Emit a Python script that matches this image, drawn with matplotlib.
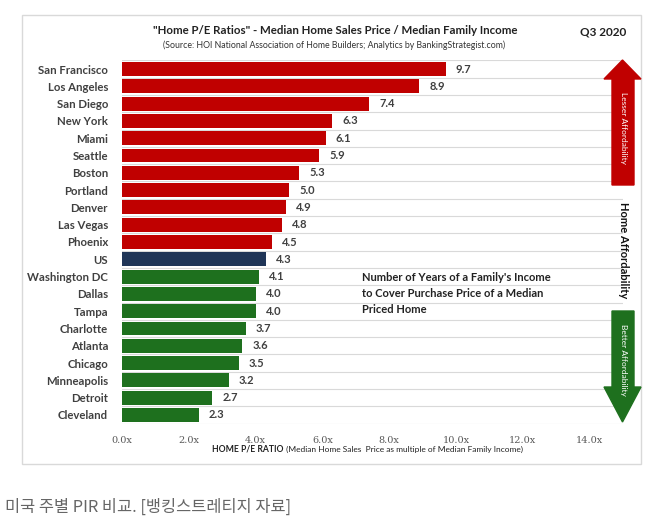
import matplotlib.pyplot as plt
import numpy as np
from matplotlib.patches import Polygon, Rectangle

cities = ['San Francisco', 'Los Angeles', 'San Diego', 'New York', 'Miami', 'Seattle',
          'Boston', 'Portland', 'Denver', 'Las Vegas', 'Phoenix', 'US', 'Washington DC',
          'Dallas', 'Tampa', 'Charlotte', 'Atlanta', 'Chicago', 'Minneapolis', 'Detroit',
          'Cleveland']
ratios = [9.7, 8.9, 7.4, 6.3, 6.1, 5.9, 5.3, 5.0, 4.9, 4.8, 4.5, 4.3, 4.1, 4.0, 4.0,
          3.7, 3.6, 3.5, 3.2, 2.7, 2.3]
xticks = [0, 2, 4, 6, 8, 10, 12, 14]

RED = '#C00000'
GREEN = '#1E701E'
NAVY = '#1F3557'
TXT = '#404040'

W, H = 647, 530
fig = plt.figure(figsize=(W / 100, H / 100), dpi=100)
plt.rcParams['font.family'] = ['Lato', 'DejaVu Sans']


def px(x, y):
    return (x / W, 1 - y / H)


# outer frame
fig.patches.append(Rectangle(px(22, 464), (641 - 22) / W, (464 - 15) / H,
                             transform=fig.transFigure, fill=False,
                             edgecolor='#d9d9d9', lw=1))

ax = fig.add_axes([122 / W, 1 - 423.6 / H, (623 - 122) / W, (423.6 - 60.4) / H])
y = np.arange(len(cities))
us = ratios[cities.index('US')]
colors = [NAVY if c == 'US' else (RED if r > us else GREEN) for c, r in zip(cities, ratios)]
ax.barh(y, ratios, height=0.8, color=colors, zorder=3)
for yi, r in zip(y, ratios):
    ax.text(r + 0.3, yi, '%.1f' % r, va='center', ha='left', fontsize=8,
            fontweight='bold', color=TXT, zorder=4)

ax.set_ylim(len(cities) - 0.5, -0.5)
ax.set_xlim(0, 15)
ax.set_yticks(y)
ax.set_yticklabels(cities, fontsize=8.2, fontweight='bold', color=TXT)
ax.set_yticks(np.arange(len(cities) + 1) - 0.5, minor=True)
ax.grid(which='minor', axis='y', color='#d9d9d9', lw=0.8, zorder=0)
ax.tick_params(axis='y', which='both', length=0, pad=10)
ax.set_xticks(xticks)
ax.set_xticklabels(['%.1fx' % t for t in xticks], fontsize=7, color='#595959',
                   family='DejaVu Serif')
ax.tick_params(axis='x', length=0, pad=9)
for s in ax.spines.values():
    s.set_visible(False)

ax.text(7.2, 11.75, "Number of Years of a Family's Income\nto Cover Purchase Price of a Median\nPriced Home",
        fontsize=8, fontweight='bold', color='#222222', va='top', ha='left',
        linespacing=1.55, zorder=5)

# titles
fig.text(335 / W, 1 - 30 / H, '"Home P/E Ratios" - Median Home Sales Price / Median Family Income',
         ha='center', va='center', fontsize=8.3, fontweight='bold', color='#222222')
fig.text(334 / W, 1 - 45 / H,
         '(Source: HOI National Association of Home Builders; Analytics by BankingStrategist.com)',
         ha='center', va='center', fontsize=6.3, color='#333333')
fig.text(603 / W, 1 - 32 / H, 'Q3 2020', ha='center', va='center', fontsize=8.5,
         fontweight='bold', color='#222222')

# x-axis label
fig.text(284 / W, 1 - 449 / H, 'HOME P/E RATIO', ha='right', va='center', fontsize=6.2,
         fontweight='bold', color='#222222')
fig.text(284 / W, 1 - 449 / H, ' (Median Home Sales  Price as multiple of Median Family Income)',
         ha='left', va='center', fontsize=6.0, color='#222222')

# affordability arrows
up = [px(612, 185), px(612, 79), px(604, 79), px(622.5, 60), px(641, 79), px(634, 79), px(634, 185)]
down = [px(612, 311), px(612, 387), px(604, 387), px(622.5, 422), px(641, 387), px(634, 387), px(634, 311)]
fig.patches.append(Polygon(up, closed=True, transform=fig.transFigure, color=RED))
fig.patches.append(Polygon(down, closed=True, transform=fig.transFigure, color=GREEN))
fig.text(*px(623, 128), 'Lesser Affordability', rotation=-90, ha='center', va='center',
         fontsize=6, color='white')
fig.text(*px(623, 360), 'Better Affordability', rotation=-90, ha='center', va='center',
         fontsize=6, color='white')
fig.text(*px(623, 250), 'Home Affordability', rotation=-90, ha='center', va='center',
         fontsize=8, fontweight='bold', color='#111111')

# caption
fig.text(5 / W, 1 - 507 / H, '미국 주별 PIR 비교. [뱅킹스트레티지 자료]', ha='left', va='center',
         fontsize=11.8, color='#666666', family=['Noto Sans CJK KR', 'DejaVu Sans'])

fig.savefig('out.png', dpi=100)
